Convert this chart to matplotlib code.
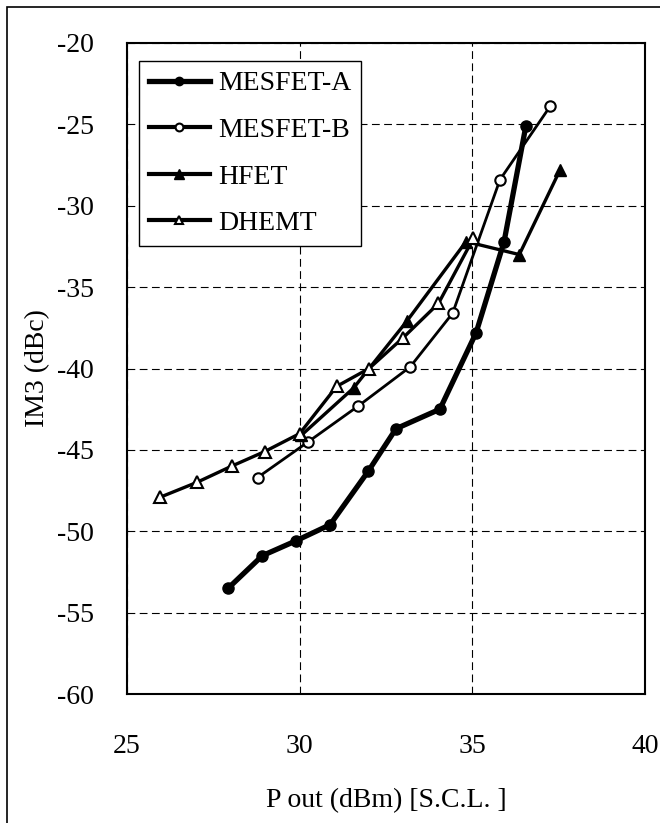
import matplotlib.pyplot as plt
from matplotlib.patches import Rectangle

plt.rcParams['font.family'] = ['Liberation Serif', 'DejaVu Serif']
plt.rcParams['axes.unicode_minus'] = False

mesfet_a_x = [27.93, 28.92, 29.88, 30.88, 31.99, 32.79, 34.06, 35.11, 35.92, 36.55]
mesfet_a_y = [-53.5, -51.5, -50.6, -49.6, -46.3, -43.7, -42.5, -37.8, -32.2, -25.1]

mesfet_b_x = [28.78, 30.25, 31.70, 33.20, 34.43, 35.80, 37.25]
mesfet_b_y = [-46.7, -44.5, -42.3, -39.9, -36.6, -28.4, -23.9]

hfet_x = [30.05, 31.56, 33.10, 34.82, 36.36, 37.54]
hfet_y = [-44.1, -41.2, -37.1, -32.2, -33.0, -27.8]

dhemt_x = [25.97, 27.02, 28.03, 28.99, 30.00, 31.07, 32.01, 33.00, 34.02, 35.03]
dhemt_y = [-47.9, -47.0, -46.0, -45.1, -44.0, -41.1, -40.0, -38.1, -36.0, -32.0]

fig = plt.figure(figsize=(6.6, 8.23), dpi=100)
W, H = 660, 823
ax = fig.add_axes([127 / W, 1 - 694 / H, 518 / W, 651 / H])

# outer frame (only top/left visible in the original)
fig.patches.append(Rectangle((7 / W, -0.1), 1.2, 1 - 7 / H + 0.1,
                             transform=fig.transFigure, fill=False,
                             edgecolor='black', lw=1.2))

ax.plot(mesfet_a_x, mesfet_a_y, color='black', lw=3.8, marker='o', ms=8,
        mfc='black', mec='black', label='MESFET-A', zorder=5)
ax.plot(mesfet_b_x, mesfet_b_y, color='black', lw=2.0, marker='o', ms=7.5,
        mfc='white', mec='black', mew=1.5, label='MESFET-B', zorder=4)
ax.plot(hfet_x, hfet_y, color='black', lw=2.4, marker='^', ms=9,
        mfc='black', mec='black', label='HFET', zorder=4)
ax.plot(dhemt_x, dhemt_y, color='black', lw=2.4, marker='^', ms=8.5,
        mfc='white', mec='black', mew=1.5, label='DHEMT', zorder=4)

ax.set_xlim(25, 40)
ax.set_ylim(-60, -20)
ax.set_xticks([25, 30, 35, 40])
ax.set_yticks(range(-60, -19, 5))
ax.tick_params(axis='both', length=0, labelsize=20)
ax.tick_params(axis='x', pad=29)
ax.tick_params(axis='y', pad=24)
ax.grid(True, color='black', lw=0.8, linestyle=(0, (7, 4)))
for s in ax.spines.values():
    s.set_linewidth(1.5)

ax.set_xlabel('P out (dBm) [S.C.L. ]', fontsize=20, labelpad=21)
ax.set_ylabel('IM3 (dBc)', fontsize=20, labelpad=5)

leg = ax.legend(loc='upper left', bbox_to_anchor=(0.023, 0.972),
                borderaxespad=0, fontsize=20, frameon=True, fancybox=False,
                edgecolor='black', framealpha=1, handlelength=2.2,
                handletextpad=0.3, labelspacing=0.76, borderpad=0.35)
leg.get_frame().set_linewidth(1.0)
for h in leg.legend_handles:
    h.set_markersize(h.get_markersize() * 0.75)
    h.set_linewidth(max(h.get_linewidth(), 3.0))

fig.savefig('out.png', dpi=100)
